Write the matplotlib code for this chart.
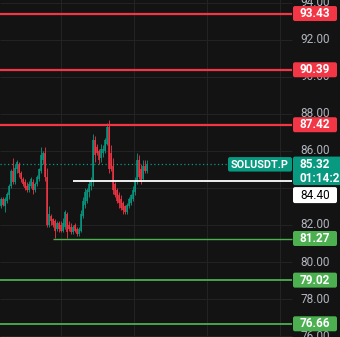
import matplotlib
matplotlib.use('Agg')
import matplotlib.pyplot as plt
from matplotlib.patches import FancyBboxPatch
from matplotlib.transforms import IdentityTransform

# ---- data ----
opens = [83.0, 83.4, 83.0, 83.3, 83.6, 84.1, 84.9, 84.3, 85.0, 85.3,
         84.8, 84.5, 84.3, 84.1, 83.9, 84.1, 84.3, 83.9, 84.2, 84.5,
         84.9, 85.5, 85.9, 84.6, 82.0, 82.5, 82.3, 82.2, 81.8, 82.1,
         82.0, 81.7, 81.9, 82.6, 82.0, 81.9, 81.6, 82.0, 81.8, 81.5,
         81.7, 82.5, 83.1, 83.3, 83.8, 84.1, 84.3, 86.6, 86.2, 86.0,
         85.6, 85.9, 86.0, 86.4, 87.3, 85.9, 85.2, 84.2, 83.9, 83.6,
         83.4, 83.2, 83.0, 82.7, 83.0, 83.2, 83.4, 83.8, 84.3, 85.5,
         85.0, 84.5, 85.2, 84.9]
highs = [83.5, 83.5, 83.5, 83.8, 84.2, 85.0, 85.6, 85.3, 85.5, 85.4,
         84.9, 84.6, 84.5, 84.3, 84.4, 84.6, 84.5, 84.3, 84.7, 85.1,
         86.2, 86.0, 86.2, 85.1, 83.0, 82.6, 82.4, 82.3, 82.2, 82.2,
         82.2, 82.4, 82.8, 82.7, 82.2, 82.1, 82.0, 82.1, 81.9, 81.9,
         82.8, 83.5, 84.0, 84.0, 84.4, 84.6, 86.9, 86.8, 86.4, 86.1,
         86.4, 86.3, 86.7, 87.5, 87.7, 86.3, 85.6, 84.3, 84.0, 83.8,
         83.6, 83.3, 83.1, 83.2, 83.5, 83.7, 84.1, 84.6, 85.9, 85.8,
         85.3, 85.5, 85.5, 85.5]
lows = [82.9, 83.0, 82.7, 83.2, 83.4, 84.0, 84.2, 84.2, 84.8, 84.6,
        84.3, 84.1, 83.9, 83.8, 83.8, 84.0, 83.7, 83.8, 84.1, 84.4,
        84.8, 85.3, 84.4, 81.9, 81.9, 82.0, 81.9, 81.3, 81.7, 81.6,
        81.6, 81.6, 81.8, 81.3, 81.7, 81.5, 81.5, 81.6, 81.4, 81.4,
        81.6, 82.4, 82.9, 83.2, 83.5, 83.9, 84.1, 85.4, 85.8, 85.3,
        85.4, 85.7, 85.9, 86.3, 84.8, 84.9, 83.7, 83.5, 83.2, 82.9,
        82.8, 82.6, 82.6, 82.6, 82.9, 83.1, 83.3, 83.6, 84.2, 84.5,
        84.2, 84.4, 84.8, 84.8]
closes = [83.4, 83.1, 83.4, 83.7, 84.1, 84.9, 84.3, 85.1, 85.4, 84.8,
          84.5, 84.2, 84.0, 83.9, 84.2, 84.5, 83.9, 84.2, 84.6, 85.0,
          85.8, 85.9, 84.6, 82.0, 82.6, 82.2, 82.0, 81.7, 82.1, 81.8,
          81.7, 82.1, 82.7, 81.6, 81.8, 81.6, 81.9, 81.7, 81.5, 81.8,
          82.6, 83.3, 83.8, 83.9, 84.2, 84.4, 86.6, 85.8, 85.9, 85.5,
          86.1, 86.1, 86.6, 87.3, 85.0, 85.0, 83.9, 83.6, 83.3, 83.2,
          82.9, 82.8, 82.7, 83.1, 83.4, 83.6, 83.9, 84.4, 85.5, 84.6,
          84.3, 85.2, 84.9, 85.32]

resistance_levels = [93.43, 90.39, 87.42]
support_levels = [81.27, 79.02, 76.66]
support_start_bars = [26, -0.5, -0.5]
last_price = 85.32
symbol = "SOLUSDT.P"
countdown = "01:14:29"
ref_level = 84.40
ref_start_bar = 36
tick_values = [94, 92, 90, 88, 86, 82, 80, 78, 76]
grid_values = [94, 92, 90, 88, 86, 84, 82, 80, 78, 76]

# ---- style ----
BG = '#131313'
GRID = '#242424'
UP = '#089981'
DOWN = '#F23645'
RES = '#F23645'
SUP = '#4CAF50'
TXT = '#B2B5BE'
FONT = 'Roboto'

fig = plt.figure(figsize=(3.4, 3.37), dpi=100, facecolor=BG)
ax = fig.add_axes([0, 0, 1, 1])
ax.set_facecolor(BG)
ax.set_xlim(-0.5, 169.5)
ax.set_ylim(75.946, 94.162)
for s in ax.spines.values():
    s.set_visible(False)
ax.set_xticks([])
ax.set_yticks([])

xr = 145.5  # right end of plotting pane (data x)

# grid
for v in grid_values:
    ax.hlines(v, -0.5, xr, color=GRID, lw=0.7, zorder=0)
for gx in [30, 66.5, 103, 139.5]:
    ax.axvline(gx, color=GRID, lw=0.7, zorder=0)

# candles
xs = list(range(len(closes)))
cols = [UP if c >= o else DOWN for o, c in zip(opens, closes)]
ax.vlines(xs, lows, highs, colors=cols, lw=0.6, zorder=3)
ax.vlines(xs, [min(o, c) for o, c in zip(opens, closes)],
          [max(o, c) for o, c in zip(opens, closes)], colors=cols, lw=1.1, zorder=3)

# levels
for v in resistance_levels:
    ax.hlines(v, -0.5, xr, color=RES, lw=1.6, zorder=4)
for v, st in zip(support_levels, support_start_bars):
    ax.hlines(v, st, xr, color=SUP, lw=1.0 if st > 0 else 1.3, zorder=4)
ax.hlines(last_price, -0.5, xr, color=UP, lw=0.9, linestyles=(0, (1, 2)), zorder=2)
ax.hlines(ref_level, ref_start_bar, xr, color='white', lw=1.3, zorder=4)

fig.canvas.draw()


def ypx(v):
    return ax.transData.transform((0, v))[1]


ID = IdentityTransform()
XC = 315


def box(x0, y0, w, h, color, z=5):
    p = FancyBboxPatch((x0, y0), w, h, boxstyle='round,pad=0,rounding_size=2',
                       transform=ID, fc=color, ec='none', zorder=z)
    fig.add_artist(p)


def label(x, y, s, color='white', weight='bold', ha='center', size=8.5, z=6):
    fig.text(x, y, s, transform=ID, color=color, fontsize=size, fontweight=weight,
             ha=ha, va='center', family=FONT, zorder=z)


# tick labels
for v in tick_values:
    label(XC, ypx(v), f"{v:.2f}", color=TXT, weight='normal', z=4)

# level boxes
for v in resistance_levels:
    y = ypx(v)
    box(293, y - 7.5, 44, 15, RES)
    label(XC, y, f"{v:.2f}")
for v in support_levels:
    y = ypx(v)
    box(293, y - 7.5, 44, 15, SUP)
    label(XC, y, f"{v:.2f}")

# last price
y = ypx(last_price)
box(228, y - 8, 64, 14.5, UP)
label(231, y - 1, symbol, ha='left', size=7.8)
box(293, y - 21.5, 50, 28.5, UP)
label(XC, y - 1, f"{last_price:.2f}")
label(300, y - 15, countdown, ha='left')

# reference price
y = ypx(ref_level) - 14.5
box(293, y - 8, 44, 16, 'white')
label(XC, y, f"{ref_level:.2f}", color='black', weight='normal')

fig.savefig('out.png', dpi=100, facecolor=BG)
